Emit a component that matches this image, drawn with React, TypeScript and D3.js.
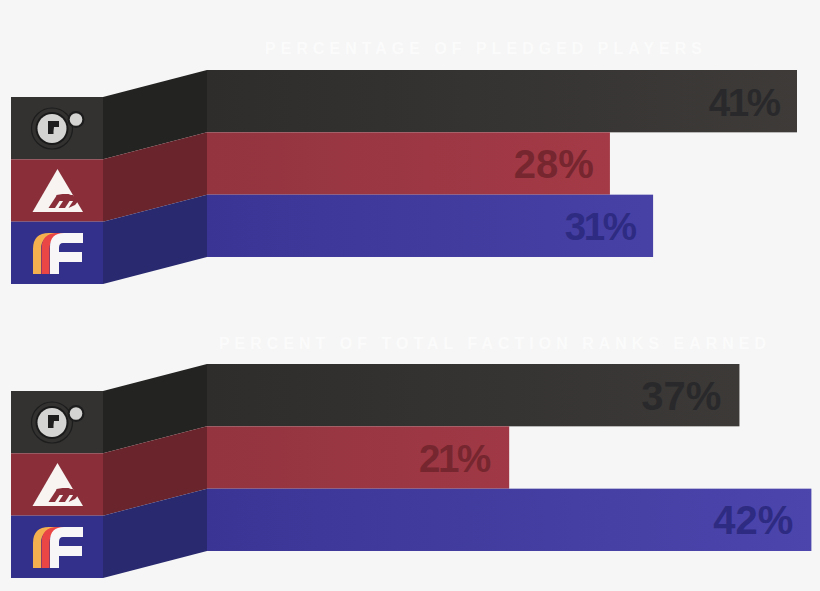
import React from "react";
import * as d3 from "d3";

const factions = ["Dead Orbit", "New Monarchy", "Future War Cult"];
const panelTitles = ["PERCENTAGE OF PLEDGED PLAYERS", "PERCENT OF TOTAL FACTION RANKS EARNED"];
const pledgedPlayers = [41, 28, 31];
const factionRanks = [37, 21, 42];
const panelValues = [pledgedPlayers, factionRanks];

const frontColors = ["#333231", "#8a2f3a", "#33308c"];
const foldColors = ["#232322", "#6a242b", "#28296f"];
const barStart = ["#2e2d2c", "#93343f", "#3a3595"];
const barEnd = ["#3e3b39", "#ac3d4a", "#4c45ac"];
const labelColors = ["#29292b", "#75262f", "#2e2b82"];

const W = 820, H = 591;
const x = d3.scaleLinear().domain([0, 41]).range([207, 797]);
const panelTop = d3.scaleOrdinal<number, number>().domain([0, 1]).range([70, 364]);
const titleY = [54, 349];
const titleX = [486, 495];
const titleSpacing = [5.0, 5.0];
const labelInset = [16.5, 18.5];
const rowH = 62.33;
const skew = 27;
const frontX0 = 11, frontX1 = 103;

function DeadOrbit({ cx, cy }: { cx: number; cy: number }) {
  return (
    <g>
      <circle cx={cx} cy={cy} r={20.5} fill="none" stroke="#1d1d1d" strokeWidth={1.2} />
      <circle cx={cx} cy={cy} r={16.5} fill="#1a1a1a" />
      <circle cx={cx} cy={cy} r={14.5} fill="#d4d4d2" />
      <circle cx={cx + 24} cy={cy - 9} r={8.5} fill="#1d1d1d" />
      <circle cx={cx + 24} cy={cy - 9} r={6.3} fill="#d4d4d2" />
      <path
        d={`M${cx - 4} ${cy - 7.5}h11v6h-5l-0.5 4h-5.5zM${cx - 4} ${cy + 1.5}h5.5v4h-5.5z`}
        fill="#1e1e1e"
      />
    </g>
  );
}

function Monarchy({ cx, top }: { cx: number; top: number }) {
  const y = top;
  return (
    <g>
      <path d={`M${cx} ${y}L${cx + 25.5} ${y + 43}H${cx - 25} Z`} fill="#f7f4f2" />
      {[0, 10, 20].map((d, i) => (
        <path
          key={i}
          d={`M${cx - 9 + d} ${y + 39}l8.5 -13h6.5l-8.5 ${i === 2 ? 10 : 13}z`}
          fill="#8a2f3a"
        />
      ))}
      <path d={`M${cx - 1} ${y + 26}l6 -1h6l10 4v3h-22z`} fill="#8a2f3a" />
    </g>
  );
}

function FutureWar({ left, top }: { left: number; top: number }) {
  const h = 41;
  const band = (i: number) =>
    `M${left + i} ${top + h}V${top + 16}Q${left + i} ${top} ${left + i + 16} ${top}H${left + i + 26}Q${left + i + 8} ${top + 2} ${left + i + 8} ${top + 16}V${top + h}Z`;
  return (
    <g>
      <path d={band(0)} fill="#f4b04e" />
      <path d={band(8.5)} fill="#ea4645" />
      <path
        d={`M${left + 17} ${top + h}V${top + 14}Q${left + 17} ${top} ${left + 31} ${top}H${left + 50}V${top + 10}H${left + 30}Q${left + 26} ${top + 10} ${left + 26} ${top + 15}V${top + 19}H${left + 49}V${top + 29}H${left + 26}V${top + h}Z`}
        fill="#f8f6f6"
      />
    </g>
  );
}

function Panel({ index }: { index: number }) {
  const values = panelValues[index];
  const top = panelTop(index);
  const y = d3.scaleBand<number>().domain([0, 1, 2]).range([top, top + 3 * rowH]).paddingInner(0);
  const gradId = (i: number) => `bar-${index}-${i}`;
  const foldPath = d3.line<[number, number]>();
  return (
    <g>
      <text
        x={titleX[index]}
        y={titleY[index]}
        textAnchor="middle"
        fill="#fbfbfb"
        fontFamily="Liberation Sans, Arial, sans-serif"
        fontWeight={700}
        fontSize={16}
        letterSpacing={titleSpacing[index]}
      >
        {panelTitles[index]}
      </text>
      {values.map((v, i) => {
        const by = y(i)!;
        const bh = y.bandwidth();
        const narrow = String(v).includes("1");
        const spacing = narrow ? -2.4 : 0;
        return (
          <g key={i}>
            <title>{factions[i]}</title>
            <defs>
              <linearGradient id={gradId(i)} gradientUnits="userSpaceOnUse" x1={x(0)} x2={x(42)} y1={0} y2={0}>
                <stop offset="0" stopColor={barStart[i]} />
                <stop offset="1" stopColor={barEnd[i]} />
              </linearGradient>
            </defs>
            <rect x={frontX0} y={by + skew} width={frontX1 - frontX0} height={bh} fill={frontColors[i]} />
            <path
              d={foldPath([
                [frontX1, by + skew],
                [x(0), by],
                [x(0), by + bh],
                [frontX1, by + bh + skew],
              ])! + "Z"}
              fill={foldColors[i]}
            />
            <rect x={x(0)} y={by} width={x(v) - x(0)} height={bh} fill={`url(#${gradId(i)})`} />
            <text
              x={x(v) - labelInset[index] + spacing + 0.5}
              y={by + bh / 2 + 14.5}
              textAnchor="end"
              fill={labelColors[i]}
              fontFamily="Liberation Sans, Arial, sans-serif"
              fontWeight={700}
              fontSize={narrow ? 38.5 : 40}
              letterSpacing={spacing}
            >
              {v}%
            </text>
          </g>
        );
      })}
      <DeadOrbit cx={52} cy={top + 58.5} />
      <Monarchy cx={57.5} top={top + 99} />
      <FutureWar left={33} top={top + 163} />
    </g>
  );
}

export default function App() {
  return (
    <svg
      width={W}
      height={H}
      viewBox={`0 0 ${W} ${H}`}
      style={{ position: "fixed", left: 0, top: 0, display: "block" }}
    >
      <rect width={W} height={H} fill="#f6f6f6" />
      <Panel index={0} />
      <Panel index={1} />
    </svg>
  );
}
